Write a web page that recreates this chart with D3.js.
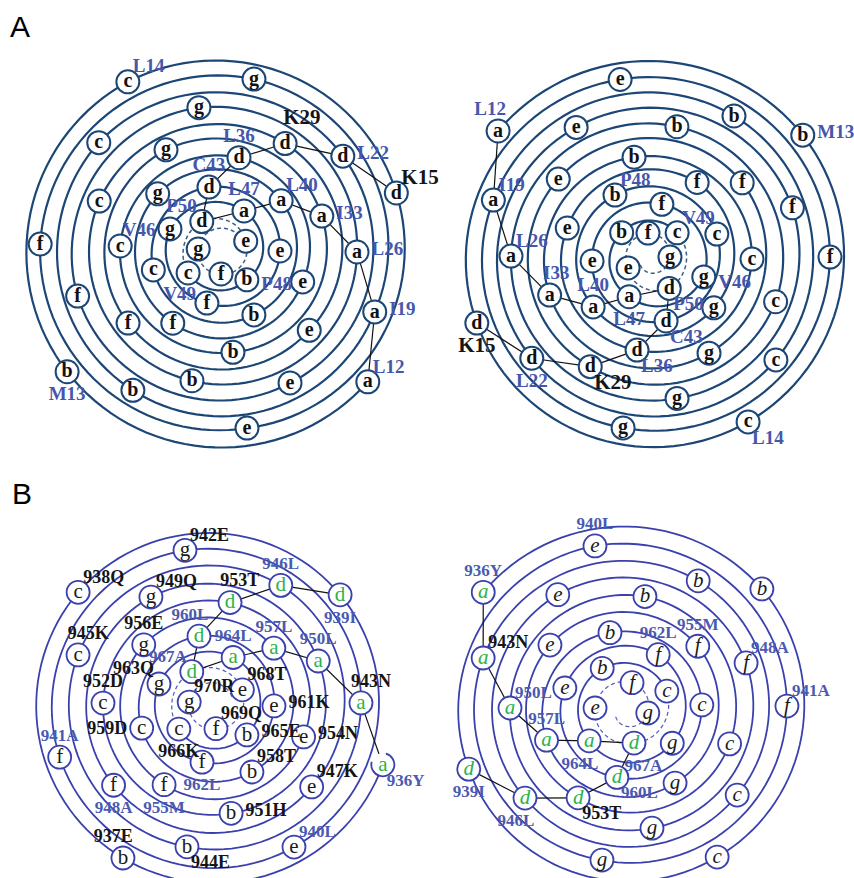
<!DOCTYPE html>
<html>
<head>
<meta charset="utf-8">
<script src="https://cdn.jsdelivr.net/npm/d3@7"></script>
<style>
  body { margin: 0; background: #fff; }
  svg text { font-family: "Liberation Serif", "Times New Roman", serif; }
</style>
</head>
<body>
<svg id="fig" width="854" height="878"></svg>
<script>
var heptad = "abcdefg";

var firstA = 12;
var angA1 = [41.5,142.1,241.3,341.4,81.6,182.5,280.8,21.3,122.5,221.8,321.8,62.2,162.9,261.3,0,102.7,202.7,300.6,41.6,142.6,241.7,
             340.4,83.2,183.4,280.8,20.1,124.1,222.6,319.6,62.4,165.2,259.5,359,105.4,204.3,299.3,47.1,147.5,237.7,336.3,90,187.4];
var radA1 = [196,195,194,185,178,181,176,165,164,164,155,148,150,146,136,132,132,126,118,117,116,
             107,101,101,96,87,86,86,79,71,70,66,59,53,56,47,38,39,36,27,22,23];
var angA2 = [219.9,321.2,59.1,159.4,260.5,359.7,99,200.3,300.6,39,139.7,240.5,340.6,79.1,180.8,281.6,19.2,118.8,220.7,320.8,58.2,
             159.7,261,0.6,98,199.9,302,38,139.3,240.9,340.3,75.7,177,282.5,19.4,118.3,221.8,317.2,57.7,155.6,265.4,357];
var radA2 = [198,196,191,185,181,180,172,167,165,162,155,150,151,143,139,134,133,124,121,119,112,
             107,102,102,93,88,89,81,75,72,71,65,58,55,57,44,38,37,36,24,25,20];
var chainA = [12,19,26,33,40,47,50,43,36,29,22,15];
var labA1 = [[14,"L14","ne",1],[29,"K29","nen",0],[36,"L36","n",1],[22,"L22","e",1],[15,"K15","ne",0],[43,"C43","n",1],
             [47,"L47","n",1],[40,"L40","ne",1],[33,"I33","e",1],[50,"P50","nw",1],[26,"L26","e",1],[46,"V46","w",1],
             [49,"V49","sw",1],[48,"P48","ese",1],[19,"I19","e",1],[12,"L12","ne",1],[13,"M13","s",1]];
var labA2 = [[12,"L12","nnw",1],[13,"M13","e",1],[19,"I19","ne",1],[41,"P48","ne",1],[49,"V49","ne",1],[26,"L26","ne",1],
             [46,"V46","ese",1],[33,"I33","nne",1],[40,"L40","n",1],[50,"P50","se",1],[47,"L47","s",1],[43,"C43","se",1],
             [15,"K15","s",0],[22,"L22","s",1],[29,"K29","se",0],[36,"L36","se",1],[14,"L14","se",1]];

// ---- panel B : residues 936-970
var firstB = 936;
var angB1 = [19.3,120.2,220.1,319.3,60,161.1,260.1,359.2,100,200.5,299.9,39.4,140.8,240.5,337.5,80,181,280,19.2,121,221.4,
             317.4,59.2,161.8,259.3,0.9,99.9,201.6,294,40.6,144,238.8,333.4,80.5,187.4];
var radB1 = [181,177,175,169,164,161,157,149,144,143,138,129,127,124,115,110,109,104,97,93,91,
             84,78,74,70,62,58,57,52,46,41,39,34,24,23];
var angB2 = [219.5,318.3,58.2,159.4,259.3,358.6,99.1,200,299.2,37.4,138.9,239.4,338.6,77.6,181,279.5,18.1,118.6,220.5,318.4,56.1,
             159.2,258.3,356.2,97.7,199.8,300.2,35.7,140,240.3,335.1,76.4,183.7,282.5,7.8];
var radB2 = [185,182,173,168,167,161,152,152,148,140,134,134,129,121,116,115,109,100,100,96,88,
             85,79,76,68,65,64,57,48,48,45,34,31,28,22];
var chainB = [936,943,950,957,964,967,960,953,946,939];
var labB1 = [[942,"942E","ne",0],[946,"946L","n",1],[938,"938Q","ne",0],[953,"953T","nne",0],[949,"949Q","ne",0],[939,"939I","s",1],
             [956,"956E","n",0],[960,"960L","nnw",1],[957,"957L","n",1],[945,"945K","nne",0],[964,"964L","n",1],[950,"950L","n",1],
             [967,"967A","nw",1],[963,"963Q","nw",0],[968,"968T","ne",0],[943,"943N","nne",0],[952,"952D","n",0],[970,"970R","ne",0],
             [961,"961K","e",0],[969,"969Q","ne",0],[965,"965E","e",0],[954,"954N","e",0],[941,"941A","n",1],[959,"959D","w",0],
             [966,"966K","s",0],[958,"958T","ne",0],[947,"947K","ne",0],[936,"936Y","se",1],[962,"962L","s",1],[948,"948A","s",1],
             [955,"955M","s",1],[951,"951H","e",0],[937,"937E","nnw",0],[940,"940L","ne",1],[944,"944E","se",0]];
var labB2 = [[940,"940L","n",1],[936,"936Y","n",1],[943,"943N","ne",0],[955,"955M","n",1],[962,"962L","n",1],[948,"948A","ne",1],
             [941,"941A","ne",1],[950,"950L","ne",1],[957,"957L","n",1],[964,"964L","ssw",1],[967,"967A","sse",1],[960,"960L","se",1],
             [939,"939I","s",1],[946,"946L","ssw",1],[953,"953T","se",0]];

var svg = d3.select("#fig");
var ang = d3.scaleLinear().domain([0, 360]).range([0, 2 * Math.PI]);
var rad = d3.scaleLinear().domain([0, 200]).range([0, 200]);
var nodeR = 11.5;

var styleA = { ring: "#1b4676", ringW: 2.2, node: "#1b4676", nodeW: 2, letter: "#111", hydro: "#111",
               weight: "bold", fstyle: "normal", fs: 20, blue: "#4557ad", labFs: [21, 19] };
var styleB1 = { ring: "#3a41ad", ringW: 1.8, node: "#3a41ad", nodeW: 1.8, letter: "#1a1a1a", hydro: "#2bb24c",
                weight: "normal", fstyle: "normal", fs: 21, blue: "#4a5ab0", labFs: [18, 17] };
var styleB2 = { ring: "#3a41ad", ringW: 1.8, node: "#3a41ad", nodeW: 1.8, letter: "#1a1a1a", hydro: "#2bb24c",
                weight: "normal", fstyle: "italic", fs: 21, blue: "#4a5ab0", labFs: [18, 17] };

function labelOffset(side, w) {
  switch (side) {
    case "n":   return [0, -(nodeR + 11)];
    case "nne": return [w / 4, -(nodeR + 11)];
    case "nnw": return [-w / 4, -(nodeR + 11)];
    case "nen": return [w / 2 - 2, -(nodeR + 15)];
    case "s":   return [0, nodeR + 10.5];
    case "sse": return [w / 4, nodeR + 10.5];
    case "ssw": return [-w / 4, nodeR + 10.5];
    case "e":   return [nodeR + 3 + w / 2, -4];
    case "ese": return [nodeR + 3 + w / 2, 4];
    case "w":   return [-(nodeR + 3 + w / 2), 0];
    case "ne":  return [w / 2 + 5, -16];
    case "nw":  return [-(w / 2 + 5), -16];
    case "se":  return [w / 2 + 4, 15];
    case "sw":  return [-(w / 2 - 8), 20];
  }
}

function drawWheel(cx, cy, first, angs, rads, chain, labels, st, openStart) {
  var g = svg.append("g").attr("transform", "translate(" + cx + "," + cy + ")");

  // unwrap angles so the spiral keeps turning clockwise
  var nodes = [], prev = -Infinity;
  angs.forEach(function(a, i) {
    while (i && a < prev) a += 360;
    prev = a;
    var p = d3.pointRadial(ang(a + 90), rad(rads[i]));
    nodes.push({ res: first + i, letter: heptad[i % 7], a: a, r: rads[i], x: p[0], y: p[1] });
  });
  var byRes = {};
  nodes.forEach(function(d) { byRes[d.res] = d; });

  function samples(i0, i1) {
    var pts = [];
    for (var i = i0; i < i1; i++) {
      var A = nodes[i], B = nodes[i + 1], k = Math.ceil((B.a - A.a) / 3);
      for (var j = 0; j < k; j++) {
        var t = j / k;
        pts.push({ a: A.a + (B.a - A.a) * t, r: A.r + (B.r - A.r) * t });
      }
    }
    pts.push({ a: nodes[i1].a, r: nodes[i1].r });
    return pts;
  }

  var line = d3.lineRadial().angle(function(d) { return ang(d.a + 90); })
                            .radius(function(d) { return rad(d.r); });
  var n = nodes.length, dashFrom = n - 5;

  g.append("path").attr("d", line(samples(0, dashFrom)))
    .attr("fill", "none").attr("stroke", st.ring).attr("stroke-width", st.ringW);

  // innermost turn, drawn dashed and running on past the last residue
  var inner = samples(dashFrom, n - 1);
  var last = nodes[n - 1], pen = nodes[n - 2];
  var rate = (pen.r - last.r) / (last.a - pen.a);
  for (var t = 3; t <= 150; t += 3) inner.push({ a: last.a + t, r: Math.max(last.r - rate * t, 12) });
  g.append("path").attr("d", line(inner))
    .attr("fill", "none").attr("stroke", st.ring).attr("stroke-width", st.ringW * 0.7)
    .attr("stroke-dasharray", "4,3").attr("opacity", 0.85);

  // heptad a / d connectors
  var links = d3.pairs(chain);
  g.selectAll(".link").data(links).enter().append("line")
    .attr("x1", function(d) { return byRes[d[0]].x; }).attr("y1", function(d) { return byRes[d[0]].y; })
    .attr("x2", function(d) { return byRes[d[1]].x; }).attr("y2", function(d) { return byRes[d[1]].y; })
    .attr("stroke", "#111").attr("stroke-width", 1.2);

  var node = g.selectAll(".node").data(nodes).enter().append("g")
    .attr("transform", function(d) { return "translate(" + d.x + "," + d.y + ")"; });
  node.append("circle").attr("r", nodeR).attr("fill", "#fff")
    .attr("stroke", function(d, i) { return (openStart && i === 0) ? "none" : st.node; })
    .attr("stroke-width", st.nodeW);
  if (openStart) {
    var p = d3.path(), a0 = 285 * Math.PI / 180, a1 = 555 * Math.PI / 180;
    p.moveTo(nodes[0].x + nodeR * Math.cos(a0), nodes[0].y + nodeR * Math.sin(a0));
    p.arc(nodes[0].x, nodes[0].y, nodeR, a0, a1);
    g.append("path").attr("d", p.toString()).attr("fill", "none")
      .attr("stroke", st.node).attr("stroke-width", st.nodeW);
  }
  node.append("text")
    .attr("text-anchor", "middle").attr("y", st.fs * 0.28)
    .attr("font-size", st.fs).attr("font-weight", st.weight).attr("font-style", st.fstyle)
    .attr("fill", function(d) { return (d.letter === "a" || d.letter === "d") ? st.hydro : st.letter; })
    .text(function(d) { return d.letter; });

  labels.forEach(function(l) {
    var d = byRes[l[0]];
    var txt = g.append("text").attr("text-anchor", "middle").attr("font-weight", "bold")
      .attr("font-size", st.labFs[l[3]]).attr("fill", l[3] ? st.blue : "#151515")
      .attr("dy", "0.35em").text(l[1]);
    var off = labelOffset(l[2], txt.node().getComputedTextLength());
    txt.attr("x", d.x + off[0]).attr("y", d.y + off[1]);
  });
}

drawWheel(221, 252, firstA, angA1, radA1, chainA, labA1, styleA, false);
drawWheel(650, 258, firstA, angA2, radA2, chainA, labA2, styleA, false);
drawWheel(212, 705, firstB, angB1, radB1, chainB, labB1, styleB1, true);
drawWheel(626, 710, firstB, angB2, radB2, chainB, labB2, styleB2, false);

svg.append("text").attr("x", 10).attr("y", 37).attr("font-size", 30)
  .style("font-family", "'Liberation Sans', Arial, sans-serif").text("A");
svg.append("text").attr("x", 12).attr("y", 504).attr("font-size", 30)
  .style("font-family", "'Liberation Sans', Arial, sans-serif").text("B");
</script>
</body>
</html>
